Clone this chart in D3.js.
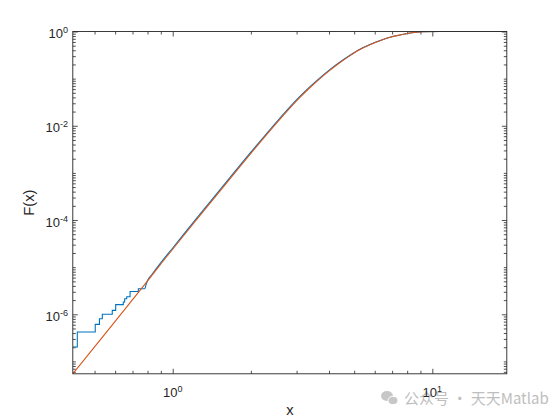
<!DOCTYPE html>
<html>
<head>
<meta charset="utf-8">
<script src="https://cdn.jsdelivr.net/npm/d3@7/dist/d3.min.js"></script>
<style>
  body { margin: 0; background: #fff; }
  text { font-family: "Liberation Sans", Arial, sans-serif; fill: #262626; }
</style>
</head>
<body>
<svg width="560" height="420"></svg>
<script>
// axis limits (tight to data)
const xLim = [0.4122, 19.36];
const yLim = [5.46e-8, 1];

// empirical cdf, low tail: stairs (x where each level starts, level)
const stairX = [0.4122, 0.429, 0.503, 0.522, 0.5355, 0.585, 0.603, 0.645, 0.653, 0.665, 0.685, 0.737, 0.782];
const stairF = [2.02e-7, 4.21e-7, 6.12e-7, 8.05e-7, 1.0e-6, 1.21e-6, 1.6e-6, 1.82e-6, 2.14e-6, 2.36e-6, 3.04e-6, 3.49e-6, 3.49e-6];

const ecdfX = [0.782, 0.79, 0.80, 0.83, 0.894, 1.0, 1.2, 1.52, 2.0, 2.59, 2.83, 3.09, 3.38, 3.69, 4.04, 4.41, 4.82, 5.26, 5.75, 6.29, 6.87, 7.5, 8.2, 9.2, 10.7, 19.36];
const ecdfF = [3.49e-6, 4.3e-6, 5.2e-6, 6.9e-6, 1.19e-5, 2.55e-5, 8.9e-5, 4.35e-4, 2.75e-3, 0.0146, 0.0252, 0.0418, 0.0675, 0.104, 0.157, 0.226, 0.314, 0.420, 0.529, 0.641, 0.755, 0.845, 0.930, 0.985, 0.999, 1.0];

// theoretical cdf
const cdfX = [0.4122, 0.5, 0.6, 0.8, 0.894, 1.0, 1.2, 1.52, 2.0, 2.59, 2.83, 3.09, 3.38, 3.69, 4.04, 4.41, 4.82, 5.26, 5.75, 6.29, 6.87, 7.5, 8.2, 9.2, 10.7, 19.36];
const cdfF = [5.46e-8, 2.03e-7, 7.1e-7, 5.1e-6, 1.12e-5, 2.4e-5, 8.4e-5, 4.1e-4, 2.6e-3, 0.0138, 0.0239, 0.0399, 0.0648, 0.1004, 0.152, 0.220, 0.308, 0.415, 0.5248, 0.638, 0.753, 0.843, 0.929, 0.985, 0.999, 1.0];

// tick labels
const xTickVals = [1, 10];
const xTickExp = ['0', '1'];
const yTickVals = [1, 1e-2, 1e-4, 1e-6];
const yTickExp = ['0', '-2', '-4', '-6'];

const svg = d3.select('svg');
const box = {left: 72.8, right: 506.8, top: 31.5, bottom: 373.8};

const x = d3.scaleLog().domain(xLim).range([box.left, box.right]);
const y = d3.scaleLog().domain(yLim).range([box.bottom, box.top]);

// minor ticks: every m*10^k inside the limits that is not labelled
const minorX = [];
for (let k = -1; k <= 1; k++)
  for (let mm = 1; mm <= 9; mm++) {
    const v = mm * Math.pow(10, k);
    if (v >= xLim[0] && v <= xLim[1] && !xTickVals.includes(v)) minorX.push(v);
  }
const minorY = [];
for (let k = -8; k <= 0; k++)
  for (let mm = 1; mm <= 9; mm++) {
    const v = +(mm * Math.pow(10, k)).toPrecision(6);
    if (v >= yLim[0] && v <= yLim[1] && !yTickVals.some(t => Math.abs(t - v) < t * 1e-6)) minorY.push(v);
  }

svg.append('defs').append('clipPath').attr('id', 'plot-clip')
  .append('rect')
  .attr('x', box.left).attr('y', box.top)
  .attr('width', box.right - box.left).attr('height', box.bottom - box.top);

// axes, ticks pointing inward on all four sides
const tickAxis = (axis, vals, size) => axis.tickValues(vals).tickSize(size).tickSizeOuter(0).tickFormat('');
const addAxis = (axis, tx, ty) => {
  const g = svg.append('g')
    .attr('transform', `translate(${tx},${ty})`)
    .call(axis);
  g.select('.domain').remove();
  g.selectAll('line').attr('stroke', '#262626').attr('stroke-width', 0.8);
};
addAxis(tickAxis(d3.axisBottom(x), minorX, -3), 0, box.bottom);
addAxis(tickAxis(d3.axisBottom(x), xTickVals, -5), 0, box.bottom);
addAxis(tickAxis(d3.axisTop(x), minorX, -3), 0, box.top);
addAxis(tickAxis(d3.axisTop(x), xTickVals, -5), 0, box.top);
addAxis(tickAxis(d3.axisLeft(y), minorY, -3), box.left, 0);
addAxis(tickAxis(d3.axisLeft(y), yTickVals, -5), box.left, 0);
addAxis(tickAxis(d3.axisRight(y), minorY, -3), box.right, 0);
addAxis(tickAxis(d3.axisRight(y), yTickVals, -5), box.right, 0);

// lines
const plot = svg.append('g').attr('clip-path', 'url(#plot-clip)');

const stairLine = d3.line()
  .x((d, i) => x(stairX[i]))
  .y((d, i) => y(stairF[i]))
  .curve(d3.curveStepAfter);
plot.append('path')
  .attr('d', stairLine(stairX))
  .attr('fill', 'none')
  .attr('stroke', '#0072BD')
  .attr('stroke-width', 1.1);

const ecdfLine = d3.line()
  .x((d, i) => x(ecdfX[i]))
  .y((d, i) => y(ecdfF[i]))
  .curve(d3.curveMonotoneX);
plot.append('path')
  .attr('d', ecdfLine(ecdfX))
  .attr('fill', 'none')
  .attr('stroke', '#0072BD')
  .attr('stroke-width', 1.1);

const cdfLine = d3.line()
  .x((d, i) => x(cdfX[i]))
  .y((d, i) => y(cdfF[i]))
  .curve(d3.curveMonotoneX);
plot.append('path')
  .attr('d', cdfLine(cdfX))
  .attr('fill', 'none')
  .attr('stroke', '#D95319')
  .attr('stroke-width', 1.1);

// box
svg.append('rect')
  .attr('x', box.left).attr('y', box.top)
  .attr('width', box.right - box.left).attr('height', box.bottom - box.top)
  .attr('fill', 'none')
  .attr('stroke', '#262626')
  .attr('stroke-width', 0.9);

// watermark
const wm = svg.append('g').attr('opacity', 0.55);
wm.append('ellipse').attr('cx', 387).attr('cy', 396).attr('rx', 6).attr('ry', 5).attr('fill', '#9a9a9a');
wm.append('ellipse').attr('cx', 393).attr('cy', 400.5).attr('rx', 5).attr('ry', 4.2).attr('fill', '#9a9a9a').attr('stroke', '#fff').attr('stroke-width', 1);
wm.append('text')
  .attr('x', 404).attr('y', 404)
  .style('font-family', '"Noto Sans CJK SC", "Noto Sans", sans-serif')
  .style('font-size', '15px')
  .style('fill', '#8a8a8a')
  .text('公众号 · 天天Matlab');

// tick labels with exponents
const powLabel = (g, base, exp) => {
  g.append('tspan').text(base);
  g.append('tspan').attr('dy', -5).style('font-size', '9px').text(exp);
};
xTickVals.forEach((v, i) => {
  const t = svg.append('text')
    .attr('x', x(v)).attr('y', 397)
    .attr('text-anchor', 'middle')
    .style('font-size', '13px');
  powLabel(t, '10', xTickExp[i]);
});
yTickVals.forEach((v, i) => {
  const t = svg.append('text')
    .attr('x', 68).attr('y', y(v) + 6.5)
    .attr('text-anchor', 'end')
    .style('font-size', '13px');
  powLabel(t, '10', yTickExp[i]);
});

// axis titles
svg.append('text')
  .attr('x', (box.left + box.right) / 2).attr('y', 415)
  .attr('text-anchor', 'middle')
  .style('font-size', '14.7px')
  .text('x');
svg.append('text')
  .attr('transform', `translate(34,${(box.top + box.bottom) / 2}) rotate(-90)`)
  .attr('text-anchor', 'middle')
  .style('font-size', '14.7px')
  .text('F(x)');
</script>
</body>
</html>
